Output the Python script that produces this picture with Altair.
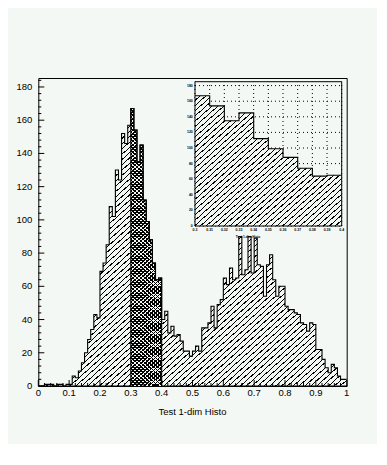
import altair as alt
import pandas as pd

# ---------------- data ----------------
counts = [
    0, 0, 1, 1, 1, 0, 1, 1, 0, 1,
    1, 6, 5, 9, 14, 20, 28, 34, 43, 41,
    69, 74, 85, 108, 102, 130, 124, 152, 146, 157,
    167, 154, 135, 145, 112, 99, 88, 74, 64, 65,
    40, 45, 32, 36, 30, 31, 27, 21, 21, 18,
    21, 24, 21, 35, 35, 38, 48, 35, 49, 52,
    65, 61, 71, 64, 65, 90, 67, 70, 90, 68,
    89, 73, 72, 54, 73, 79, 64, 54, 60, 60,
    48, 46, 46, 44, 43, 38, 37, 33, 38, 37,
    22, 22, 16, 11, 8, 13, 11, 6, 4, 4,
]
n_bins = 100
x_min, x_max = 0.0, 1.0
sel_first, sel_last = 30, 40          # selected range 0.3 - 0.4

y_major = list(range(0, 181, 20))
y_minor = [v for v in range(0, 185, 4) if v % 20 != 0]
x_major = [0.0, 0.1, 0.2, 0.3, 0.4, 0.5, 0.6, 0.7, 0.8, 0.9, 1.0]
x_major_labels = ["0", "0.1", "0.2", "0.3", "0.4", "0.5", "0.6", "0.7", "0.8", "0.9", "1"]
x_minor = [round(i * 0.02, 2) for i in range(51) if i % 5 != 0]

inset_x = [0.30, 0.31, 0.32, 0.33, 0.34, 0.35, 0.36, 0.37, 0.38, 0.39, 0.40]
inset_x_labels = ["0.3", "0.31", "0.32", "0.33", "0.34", "0.35", "0.36", "0.37", "0.38", "0.39", "0.4"]
inset_y = list(range(0, 181, 20))

title = "Test 1-dim Histo"

# ---------------- styling ----------------
BG = "#f4f8f4"
FONT = "Liberation Sans"
W, H = 308.4, 308

X_MAIN = alt.Scale(domain=[0, 1], nice=False, zero=False)
Y_MAIN = alt.Scale(domain=[0, 185.4], nice=False, zero=True)
X_IN = alt.Scale(domain=[0.3, 0.4], range=[156.7, 303.4], nice=False, zero=False)
Y_IN = alt.Scale(domain=[0, 185], range=[148, 3.7], nice=False, zero=True)


def hatch(n, frac, light, dark, x1, y1, x2, y2):
    stops = []
    for i in range(n):
        a = round(i / n, 6)
        m = round((i + 1 - frac) / n, 6)
        b = round((i + 1) / n, 6)
        stops += [
            alt.GradientStop(color=light, offset=a),
            alt.GradientStop(color=light, offset=m),
            alt.GradientStop(color=dark, offset=m),
            alt.GradientStop(color=dark, offset=b),
        ]
    return alt.LinearGradient(gradient="linear", stops=stops, x1=x1, y1=y1, x2=x2, y2=y2)


# ---------------- tables ----------------
edges = [round(x_min + i * (x_max - x_min) / n_bins, 4) for i in range(n_bins + 1)]
main_df = pd.DataFrame({"x": edges, "v": counts + [counts[-1]]})
sel_vals = [c if sel_first <= i < sel_last else 0 for i, c in enumerate(counts)]
sel_df = pd.DataFrame({"x": edges, "v": sel_vals + [0]})
in_counts = counts[sel_first:sel_last]
inset_df = pd.DataFrame({"x": inset_x, "v": in_counts + [in_counts[-1]]})

ymaj_df = pd.DataFrame({"v": y_major, "label": [str(v) for v in y_major]})
ymin_df = pd.DataFrame({"v": y_minor})
xmaj_df = pd.DataFrame({"x": x_major, "label": x_major_labels})
xmin_df = pd.DataFrame({"x": x_minor})

in_x_df = pd.DataFrame({"x": inset_x, "label": inset_x_labels, "y0": 0, "y1": 185})
in_y_df = pd.DataFrame({"v": inset_y, "label": [str(v) for v in inset_y], "x0": 0.3, "x1": 0.4})
in_frame = pd.DataFrame({"x0": [0.3], "x1": [0.4], "y0": [0], "y1": [185]})

enc_main = dict(
    x=alt.X("x:Q", scale=X_MAIN, axis=None),
    y=alt.Y("v:Q", scale=Y_MAIN, axis=None),
)
enc_in = dict(
    x=alt.X("x:Q", scale=X_IN, axis=None),
    y=alt.Y("v:Q", scale=Y_IN, axis=None),
)

# ---------------- main histogram ----------------
main_fill = alt.Chart(main_df).mark_area(
    interpolate="step-after",
    color=hatch(105, 0.22, BG, "black", 0, 0, 1, 1),
).encode(**enc_main)

sel_fill1 = alt.Chart(sel_df).mark_area(
    interpolate="step-after",
    color=hatch(150, 0.4, BG, "black", 0, 0, 1, 1),
).encode(**enc_main)
sel_fill2 = alt.Chart(sel_df).mark_area(
    interpolate="step-after",
    color=hatch(150, 0.4, "rgba(0,0,0,0)", "black", 1, 0, 0, 1),
).encode(**enc_main)

main_line = alt.Chart(main_df).mark_line(
    interpolate="step-after", color="black", strokeWidth=1.1
).encode(**enc_main)
sel_line = alt.Chart(sel_df).mark_line(
    interpolate="step-after", color="black", strokeWidth=1.1
).encode(**enc_main)

# ---------------- main axes (inward ticks) ----------------
y_maj_ticks = alt.Chart(ymaj_df).mark_rule(color="black", strokeWidth=1).encode(
    y=alt.Y("v:Q", scale=Y_MAIN, axis=None), x=alt.value(0), x2=alt.value(6))
y_min_ticks = alt.Chart(ymin_df).mark_rule(color="black", strokeWidth=1).encode(
    y=alt.Y("v:Q", scale=Y_MAIN, axis=None), x=alt.value(0), x2=alt.value(3))
y_labels = alt.Chart(ymaj_df).mark_text(
    align="right", baseline="middle", font=FONT, fontSize=9.5, color="black"
).encode(y=alt.Y("v:Q", scale=Y_MAIN, axis=None), x=alt.value(-6), text="label:N")

x_maj_ticks = alt.Chart(xmaj_df).mark_rule(color="black", strokeWidth=1).encode(
    x=alt.X("x:Q", scale=X_MAIN, axis=None), y=alt.value(H), y2=alt.value(H - 6))
x_min_ticks = alt.Chart(xmin_df).mark_rule(color="black", strokeWidth=1).encode(
    x=alt.X("x:Q", scale=X_MAIN, axis=None), y=alt.value(H), y2=alt.value(H - 3))
x_labels = alt.Chart(xmaj_df).mark_text(
    align="center", baseline="middle", font=FONT, fontSize=9.5, color="black"
).encode(x=alt.X("x:Q", scale=X_MAIN, axis=None), y=alt.value(315), text="label:N")

x_title = alt.Chart(pd.DataFrame({"t": [title]})).mark_text(
    align="center", baseline="middle", font=FONT, fontSize=9.5, color="black"
).encode(x=alt.value(W / 2), y=alt.value(334), text="t:N")

# ---------------- inset ----------------
in_vgrid = alt.Chart(in_x_df).mark_rule(color="black", strokeWidth=1, strokeDash=[1, 3]).encode(
    x=alt.X("x:Q", scale=X_IN, axis=None),
    y=alt.Y("y0:Q", scale=Y_IN, axis=None), y2="y1:Q")
in_hgrid = alt.Chart(in_y_df).mark_rule(color="black", strokeWidth=1, strokeDash=[1, 3]).encode(
    y=alt.Y("v:Q", scale=Y_IN, axis=None),
    x=alt.X("x0:Q", scale=X_IN, axis=None), x2="x1:Q")

in_fill = alt.Chart(inset_df).mark_area(
    interpolate="step-after",
    color=hatch(50, 0.22, BG, "black", 0, 0, 1, 1),
).encode(**enc_in)
in_line = alt.Chart(inset_df).mark_line(
    interpolate="step-after", color="black", strokeWidth=1.1
).encode(**enc_in)
in_box = alt.Chart(in_frame).mark_rect(filled=False, stroke="black", strokeWidth=1).encode(
    x=alt.X("x0:Q", scale=X_IN, axis=None), x2="x1:Q",
    y=alt.Y("y0:Q", scale=Y_IN, axis=None), y2="y1:Q")

in_y_labels = alt.Chart(in_y_df).mark_text(
    align="right", baseline="middle", font=FONT, fontSize=3.5, fontWeight="bold", color="black"
).encode(y=alt.Y("v:Q", scale=Y_IN, axis=None), x=alt.value(154.5), text="label:N")
in_x_labels = alt.Chart(in_x_df).mark_text(
    align="center", baseline="middle", font=FONT, fontSize=3.5, fontWeight="bold", color="black"
).encode(x=alt.X("x:Q", scale=X_IN, axis=None), y=alt.value(151.8), text="label:N")
in_title = alt.Chart(pd.DataFrame({"t": [title]})).mark_text(
    align="center", baseline="middle", font=FONT, fontSize=3.2, fontWeight="bold", color="black"
).encode(x=alt.value(209.7), y=alt.value(159), text="t:N")

chart = alt.layer(
    main_fill, sel_fill1, sel_fill2, main_line, sel_line,
    y_maj_ticks, y_min_ticks, y_labels, x_maj_ticks, x_min_ticks, x_labels, x_title,
    in_vgrid, in_hgrid, in_fill, in_line, in_box, in_y_labels, in_x_labels, in_title,
).resolve_scale(
    x="independent", y="independent"
).properties(
    width=W, height=H,
    padding={"left": 30.3, "top": 70, "right": 30, "bottom": 58},
    autosize=alt.AutoSizeParams(type="none"),
).configure(
    background=BG,
).configure_view(
    stroke="black", strokeWidth=1,
)

chart.save("out.html", embed_options={"renderer": "svg", "actions": False})
